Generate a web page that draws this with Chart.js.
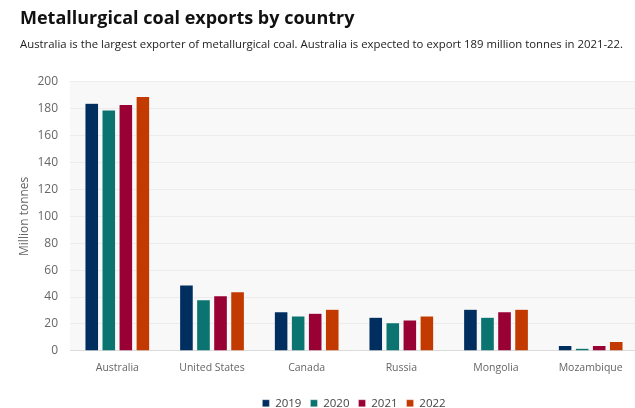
<!DOCTYPE html>
<html>
<head>
<meta charset="utf-8">
<script src="https://cdn.jsdelivr.net/npm/chart.js@4/dist/chart.umd.min.js"></script>
<style>
  html, body { margin: 0; padding: 0; background: #fff; overflow: hidden; }
  #wrap { width: 635px; height: 408px; overflow: hidden; }
</style>
</head>
<body>
<div id="wrap"><canvas id="chart" width="638" height="419"></canvas></div>
<script>
// Metallurgical coal exports, million tonnes
const countries = ['Australia', 'United States', 'Canada', 'Russia', 'Mongolia', 'Mozambique'];
const years = ['2019', '2020', '2021', '2022'];
const exports2019 = [184, 49, 29, 25, 31, 4];
const exports2020 = [179, 38, 26, 21, 25, 2];
const exports2021 = [183, 41, 28, 23, 29, 4];
const exports2022 = [189, 44, 31, 26, 31, 7];
const yTicks = [0, 20, 40, 60, 80, 100, 120, 140, 160, 180, 200];

const colors = ['#002f5f', '#0b7370', '#990033', '#c23a00'];
const series = [exports2019, exports2020, exports2021, exports2022];

// light grey fill behind the plot area
const plotBackground = {
    id: 'plotBackground',
    beforeDraw(chart) {
        const { ctx, chartArea: a } = chart;
        ctx.save();
        ctx.fillStyle = '#f8f8f8';
        ctx.fillRect(a.left, a.top, a.right - a.left, a.bottom - a.top);
        ctx.restore();
    }
};

const font = '"Open Sans", "Noto Sans", sans-serif';

new Chart(document.getElementById('chart'), {
    type: 'bar',
    data: {
        labels: countries,
        datasets: series.map((data, i) => ({
            label: years[i],
            data: data,
            backgroundColor: colors[i],
            borderColor: 'rgba(255,255,255,0.6)',
            borderWidth: 0.5,
            barPercentage: 0.8,
            categoryPercentage: 0.72
        }))
    },
    plugins: [plotBackground],
    options: {
        responsive: false,
        animation: false,
        layout: { padding: { left: 20, right: 0, top: 8, bottom: 0 } },
        plugins: {
            title: {
                display: true,
                text: 'Metallurgical coal exports by country',
                align: 'start',
                color: '#111',
                font: { family: font, size: 18, weight: 'bold' },
                padding: { top: 0, bottom: 8 }
            },
            subtitle: {
                display: true,
                text: 'Australia is the largest exporter of metallurgical coal. Australia is expected to export 189 million tonnes in 2021-22.',
                align: 'start',
                color: '#222',
                font: { family: font, size: 11.35 },
                padding: { top: 0, bottom: 30.5 }
            },
            legend: {
                position: 'bottom',
                fullSize: false,
                labels: {
                    color: '#444',
                    boxWidth: 7,
                    boxHeight: 7,
                    padding: 9,
                    font: { family: font, size: 11.5 }
                }
            },
            tooltip: { enabled: false }
        },
        scales: {
            x: {
                grid: { display: false },
                border: { color: '#dcdcdc' },
                ticks: { color: '#666', font: { family: font, size: 10.5 }, padding: 3 },
                afterFit(axis) { axis.height += 11; }
            },
            y: {
                min: 0,
                max: 200,
                afterBuildTicks(axis) { axis.ticks = yTicks.map(v => ({ value: v })); },
                afterFit(axis) { axis.width = 50; },
                grid: { color: '#ececec', drawTicks: false },
                border: { display: false },
                ticks: { color: '#666', font: { family: font, size: 12 }, padding: 12 },
                title: {
                    display: true,
                    text: 'Million tonnes',
                    color: '#666',
                    font: { family: font, size: 12 },
                    padding: { top: -3, bottom: 0 }
                }
            }
        }
    }
});
</script>
</body>
</html>
